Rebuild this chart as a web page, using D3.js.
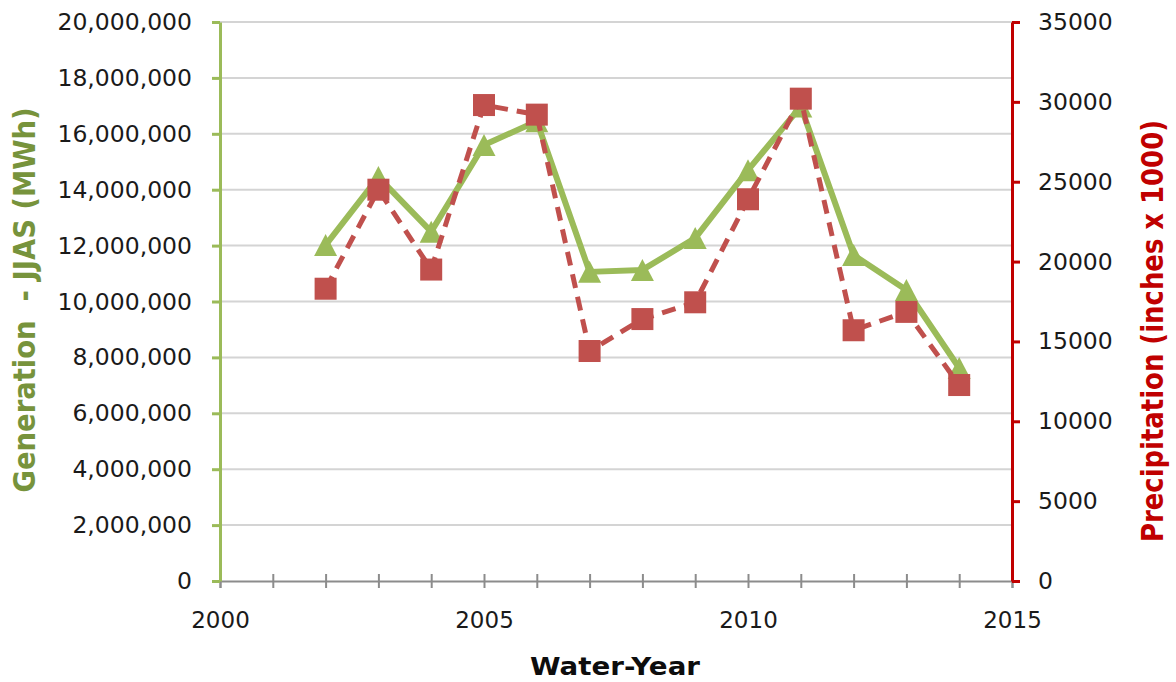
<!DOCTYPE html>
<html>
<head>
<meta charset="utf-8">
<script src="https://cdn.jsdelivr.net/npm/d3@7/dist/d3.min.js"></script>
<style>
  html, body { margin: 0; padding: 0; background: #fff; }
  svg { display: block; font-family: "DejaVu Sans", sans-serif; }
</style>
</head>
<body>
<svg id="chart" width="1176" height="682"></svg>
<script>
// ---- data ----
const years = [2002, 2003, 2004, 2005, 2006, 2007, 2008, 2009, 2010, 2011, 2012, 2013, 2014];
const generation = [12020000, 14450000, 12500000, 15600000, 16450000, 11060000, 11130000, 12270000, 14700000, 16980000, 11660000, 10410000, 7620000];
const precipitation = [18300, 24500, 19500, 29800, 29200, 14400, 16400, 17450, 23900, 30200, 15700, 16850, 12270];
const xTickValues = [2000, 2001, 2002, 2003, 2004, 2005, 2006, 2007, 2008, 2009, 2010, 2011, 2012, 2013, 2014, 2015];
const xLabelValues = [2000, 2005, 2010, 2015];
const leftTicks = [0, 2000000, 4000000, 6000000, 8000000, 10000000, 12000000, 14000000, 16000000, 18000000, 20000000];
const rightTicks = [0, 5000, 10000, 15000, 20000, 25000, 30000, 35000];
const leftTitle = "Generation\u00a0\u00a0- JJAS (MWh)";
const rightTitle = "Precipitation (inches x 1000)";
const xTitle = "Water-Year";

// ---- layout ----
const L = 220, R = 1012, T = 22, B = 581;
const green = "#9bbb59", red = "#c0504d";

const svg = d3.select("#chart");
const x = d3.scaleLinear().domain([2000, 2015]).range([L, R]);
const yL = d3.scaleLinear().domain([0, 20000000]).range([B, T]);
const yR = d3.scaleLinear().domain([0, 35000]).range([B, T]);

// gridlines
svg.append("g").selectAll("line")
  .data(leftTicks.filter(d => d > 0))
  .join("line")
  .attr("x1", L).attr("x2", R)
  .attr("y1", d => yL(d)).attr("y2", d => yL(d))
  .attr("stroke", "#d4d4d4").attr("stroke-width", 2);

// x axis
const xAxis = svg.append("g").attr("transform", `translate(0,${B})`)
  .call(d3.axisBottom(x).tickValues(xTickValues).tickSize(7).tickPadding(24)
    .tickFormat(d => xLabelValues.includes(d) ? String(d) : ""));
xAxis.select(".domain").attr("stroke", "#8c8c8c").attr("stroke-width", 2);
xAxis.selectAll(".tick line").attr("y1", -7).attr("y2", 7).attr("stroke", "#8c8c8c").attr("stroke-width", 2);
xAxis.selectAll(".tick text").attr("font-size", 23).attr("fill", "#1a1a1a").attr("font-family", "DejaVu Sans");

// left axis
const lAxis = svg.append("g").attr("transform", `translate(${L},0)`)
  .call(d3.axisLeft(yL).tickValues(leftTicks).tickSize(8).tickPadding(20).tickSizeOuter(0)
    .tickFormat(d3.format(",")));
lAxis.select(".domain").attr("stroke", green).attr("stroke-width", 3);
lAxis.selectAll(".tick line").attr("stroke", green).attr("stroke-width", 3);
lAxis.selectAll(".tick text").attr("font-size", 23.5).attr("fill", "#1a1a1a").attr("font-family", "DejaVu Sans");

// right axis
const rAxis = svg.append("g").attr("transform", `translate(${R},0)`)
  .call(d3.axisRight(yR).tickValues(rightTicks).tickSize(8).tickPadding(18).tickSizeOuter(0)
    .tickFormat(d3.format("d")));
rAxis.select(".domain").attr("stroke", "#c00000").attr("stroke-width", 3);
rAxis.selectAll(".tick line").attr("stroke", "#c00000").attr("stroke-width", 3);
rAxis.selectAll(".tick text").attr("font-size", 23.5).attr("fill", "#1a1a1a").attr("font-family", "DejaVu Sans");

// series data
const genData = years.map((yr, i) => ({ yr, v: generation[i] }));
const precData = years.map((yr, i) => ({ yr, v: precipitation[i] }));

// generation series
svg.append("path").datum(genData)
  .attr("fill", "none").attr("stroke", green).attr("stroke-width", 6)
  .attr("stroke-linejoin", "round")
  .attr("d", d3.line().x(d => x(d.yr)).y(d => yL(d.v)));
svg.append("g").selectAll("path")
  .data(genData).join("path")
  .attr("transform", d => `translate(${x(d.yr)},${yL(d.v)})`)
  .attr("d", "M0,-11L11.5,11L-11.5,11Z")
  .attr("fill", green);

// precipitation series
svg.append("path").datum(precData)
  .attr("fill", "none").attr("stroke", red).attr("stroke-width", 5)
  .attr("stroke-dasharray", "14,9")
  .attr("d", d3.line().x(d => x(d.yr)).y(d => yR(d.v)));
svg.append("g").selectAll("rect")
  .data(precData).join("rect")
  .attr("x", d => x(d.yr) - 11).attr("y", d => yR(d.v) - 11)
  .attr("width", 22).attr("height", 22)
  .attr("fill", red);

// titles
svg.append("text")
  .attr("transform", "translate(35,300) rotate(-90)")
  .attr("text-anchor", "middle")
  .attr("font-size", 30).attr("font-weight", "bold")
  .attr("fill", "#77933c")
  .attr("textLength", 385).attr("lengthAdjust", "spacingAndGlyphs")
  .text(leftTitle);

svg.append("text")
  .attr("transform", "translate(1163,331) rotate(-90)")
  .attr("text-anchor", "middle")
  .attr("font-size", 30).attr("font-weight", "bold")
  .attr("fill", "#c00000")
  .attr("textLength", 422).attr("lengthAdjust", "spacingAndGlyphs")
  .text(rightTitle);

svg.append("text")
  .attr("x", 615).attr("y", 675)
  .attr("text-anchor", "middle")
  .attr("font-size", 25).attr("font-weight", "bold")
  .attr("fill", "#0d0d0d")
  .attr("textLength", 170).attr("lengthAdjust", "spacingAndGlyphs")
  .text(xTitle);
</script>
</body>
</html>
